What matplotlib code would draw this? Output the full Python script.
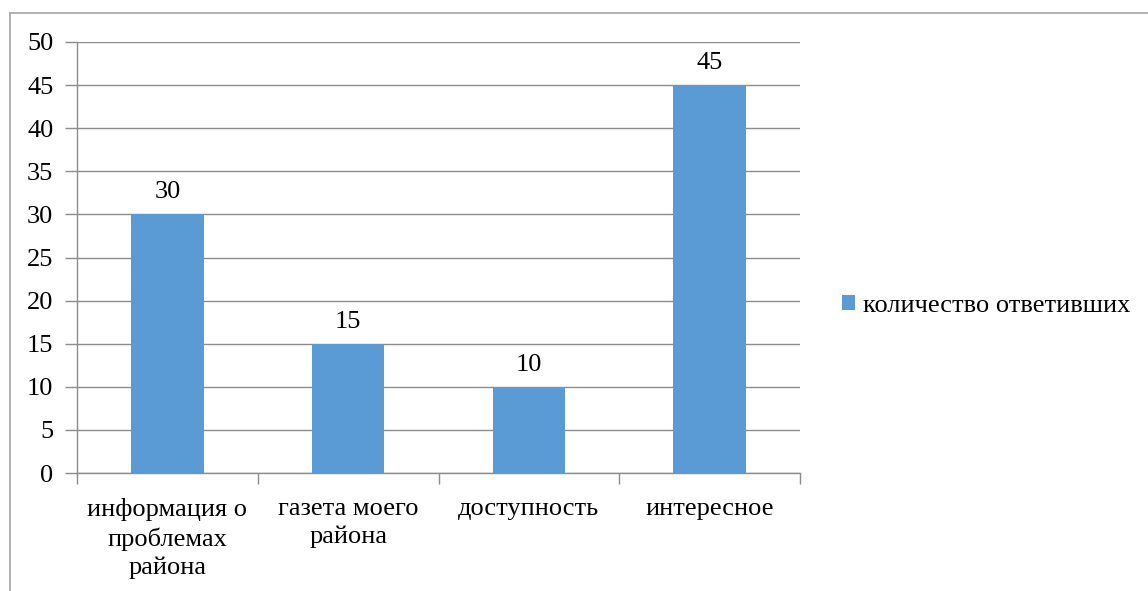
import matplotlib
matplotlib.use("Agg")
import matplotlib.pyplot as plt
from matplotlib.lines import Line2D
from matplotlib.patches import Patch
from matplotlib.font_manager import FontProperties

categories = ["информация о\nпроблемах\nрайона", "газета моего\nрайона", "доступность", "интересное"]
values = [30, 15, 10, 45]
series_name = "количество ответивших"
yticks = [0, 5, 10, 15, 20, 25, 30, 35, 40, 45, 50]

W, H = 1148, 591
bar_color = "#5B9BD5"
grid_color = "#8C8C8C"
FAM = "Liberation Serif"
FS = 19
fp = FontProperties(family=FAM, size=FS)

fig = plt.figure(figsize=(W / 100, H / 100), dpi=100)

# outer frame (top and left edges)
fig.add_artist(Line2D([10 / W, 1.0], [1 - 12.5 / H, 1 - 12.5 / H], color="#A6A6A6", lw=1.2))
fig.add_artist(Line2D([10 / W, 10 / W], [0, 1 - 12.5 / H], color="#A6A6A6", lw=1.2))

x0, x1, ytop, ybot = 77, 800, 42, 473
ax = fig.add_axes([x0 / W, (H - ybot) / H, (x1 - x0) / W, (ybot - ytop) / H])

pos = list(range(len(categories)))
bars = ax.bar(pos, values, width=0.40, color=bar_color, zorder=3)
for b, v in zip(bars, values):
    ax.annotate(str(v), (b.get_x() + b.get_width() / 2, v), xytext=(0, 8),
                textcoords="offset points", ha="center", va="bottom", fontproperties=fp)

ax.set_xlim(-0.5, len(categories) - 0.5)
ax.set_ylim(0, 50)
ax.set_yticks(yticks)
ax.set_yticklabels([str(t) for t in yticks], fontproperties=fp)
ax.yaxis.grid(True, color=grid_color, lw=1.0, zorder=0)
ax.tick_params(axis="y", length=9, color=grid_color, width=1.0, pad=8)

ax.set_xticks(pos)
ax.set_xticklabels(categories, fontproperties=fp, linespacing=1.33)
ax.tick_params(axis="x", which="major", length=0, pad=18)
ax.set_xticks([p - 0.5 for p in pos] + [len(categories) - 0.5], minor=True)
ax.tick_params(axis="x", which="minor", length=8, color=grid_color, width=1.0)

for s in ["top", "right"]:
    ax.spines[s].set_visible(False)
for s in ["left", "bottom"]:
    ax.spines[s].set_color(grid_color)
    ax.spines[s].set_linewidth(1.0)

handle = Patch(facecolor=bar_color, edgecolor="none")
fig.legend([handle], [series_name], loc="center left", bbox_to_anchor=(829 / W, 1 - 306 / H),
           frameon=False, prop=fp, handlelength=0.5, handleheight=0.5, handletextpad=0.3,
           borderpad=0)

fig.savefig("out.png", dpi=100)
